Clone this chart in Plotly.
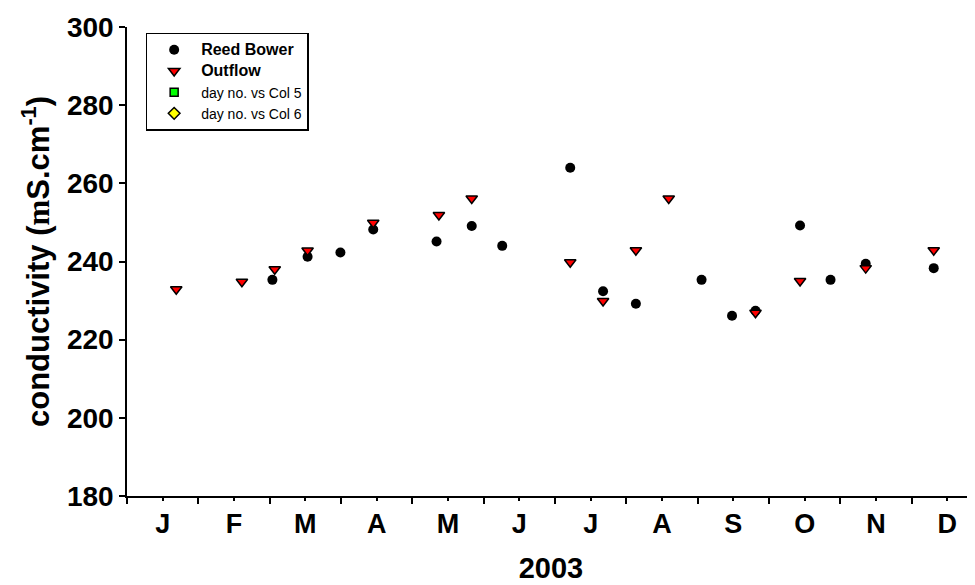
import plotly.graph_objects as go

# ---- data (day of year 2003, conductivity) ----
months = ["J", "F", "M", "A", "M", "J", "J", "A", "S", "O", "N", "D"]

reed_day = [62, 77, 91, 105, 132, 147, 160, 189, 203, 217, 245, 258, 268, 287, 300, 315, 344]
reed_cond = [235.3, 241.2, 242.3, 248.2, 245.1, 249.1, 244.0, 264.0, 232.4, 229.2, 235.3,
             226.1, 227.4, 249.2, 235.3, 239.4, 238.3]

outflow_day = [21, 49, 63, 77, 105, 133, 147, 189, 203, 217, 231, 268, 287, 315, 344]
outflow_cond = [232.9, 234.8, 238.0, 242.8, 249.9, 251.9, 256.1, 239.8, 229.9, 242.9,
                256.1, 226.9, 235.0, 238.3, 242.9]

# empty series (legend only)
col5_day, col5_val = [None], [None]
col6_day, col6_val = [None], [None]

y_ticks = [180, 200, 220, 240, 260, 280, 300]

month_len = 365 / 12
bounds = [i * month_len for i in range(13)]
mids = [(i + 0.5) * month_len for i in range(12)]

FONT = "Liberation Sans, Arial, sans-serif"

fig = go.Figure()
fig.add_trace(go.Scatter(
    x=reed_day, y=reed_cond, mode="markers",
    name="<span style='font-size:16px'><b>Reed Bower</b></span>",
    marker=dict(symbol="circle", size=10, color="black", line=dict(width=0))))
fig.add_trace(go.Scatter(
    x=outflow_day, y=outflow_cond, mode="markers",
    name="<span style='font-size:16px'><b>Outflow</b></span>",
    marker=dict(symbol="triangle-down", size=10, color="red",
                line=dict(color="black", width=1.5))))
fig.add_trace(go.Scatter(
    x=col5_day, y=col5_val, mode="markers",
    name="day no. vs Col 5",
    marker=dict(symbol="square", size=8, color="#00ff00",
                line=dict(color="black", width=1.5))))
fig.add_trace(go.Scatter(
    x=col6_day, y=col6_val, mode="markers",
    name="day no. vs Col 6",
    marker=dict(symbol="diamond", size=9, color="#ffff00",
                line=dict(color="black", width=1.5))))

fig.update_layout(
    width=967, height=577,
    margin=dict(l=119, r=0, t=19, b=89, pad=0),
    paper_bgcolor="white", plot_bgcolor="white",
    font=dict(family=FONT, color="black"),
    showlegend=True,
    legend=dict(x=0.022, y=0.988, xanchor="left", yanchor="top",
                bordercolor="black", borderwidth=1.5, bgcolor="white",
                tracegroupgap=0, itemwidth=44,
                font=dict(family=FONT, size=14, color="black")),
    xaxis=dict(
        range=[0, 361.6], showgrid=False, zeroline=False,
        showline=True, linecolor="black", linewidth=1.5,
        tickmode="array", tickvals=mids, ticktext=months,
        ticks="outside", ticklen=3, tickwidth=1.5, tickcolor="black",
        tickfont=dict(family=FONT, size=27, color="black", weight="bold"),
        minor=dict(tickmode="array", tickvals=bounds, ticks="outside",
                   ticklen=6, tickwidth=1.5, tickcolor="black"),
        title=dict(text="<b>2003</b>", font=dict(family=FONT, size=29, color="black"),
                   standoff=20),
    ),
    yaxis=dict(
        range=[180, 300], showgrid=False, zeroline=False,
        showline=True, linecolor="black", linewidth=1.5,
        tickmode="array", tickvals=y_ticks,
        ticks="outside", ticklen=6, tickwidth=1.5, tickcolor="black",
        tickfont=dict(family=FONT, size=28, color="black", weight="bold"),
        title=dict(text="<b>conductivity (<span style='font-family:serif'>m</span>S.cm<sup>-1</sup>)</b>",
                   font=dict(family=FONT, size=31, color="black"), standoff=8),
    ),
)

fig.write_html("out.html")
